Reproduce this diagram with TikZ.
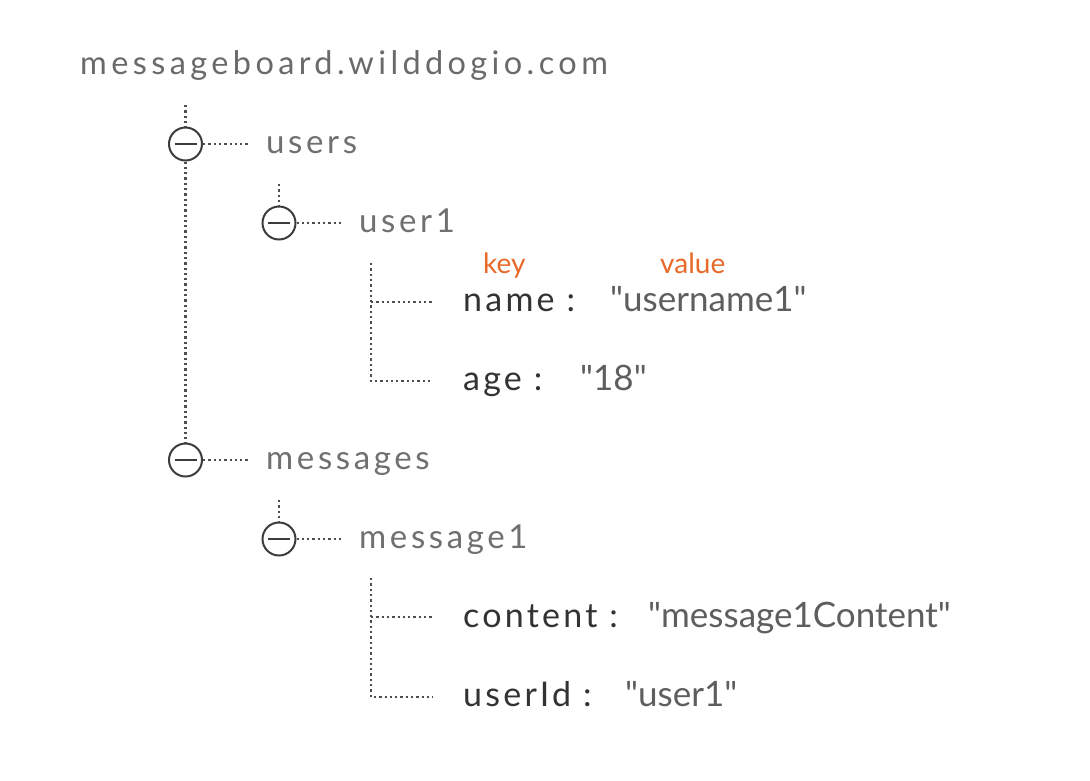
\documentclass[tikz,border=0pt]{standalone}
\usepackage{fontspec}
\setmainfont{Lato}
\newfontfamily\titlefont[LetterSpace=13.5]{Lato}
\newfontfamily\labelfont[LetterSpace=11]{Lato}
\newfontfamily\keyfont[LetterSpace=9.5]{Lato}
\newfontfamily\valfont{Lato}
\definecolor{titlegray}{HTML}{6A6A6A}
\definecolor{labelgray}{HTML}{707070}
\definecolor{keydark}{HTML}{333333}
\definecolor{valgray}{HTML}{5E5E5E}
\definecolor{orangeK}{HTML}{E8692A}
\definecolor{linegray}{HTML}{4E4E4E}
\definecolor{circgray}{HTML}{3C3C3C}
\tikzset{
  dotline/.style={draw=linegray, line width=2.3pt, dash pattern=on 2.3pt off 3pt},
  togglebox/.style={circle, draw=circgray, line width=2pt, minimum size=33pt, inner sep=0pt,
    path picture={\draw[circgray, line width=2.6pt] ([xshift=-11pt]path picture bounding box.center) -- ([xshift=11pt]path picture bounding box.center);}},
  titletext/.style={anchor=base west, inner sep=0pt, text=titlegray, font=\titlefont\fontsize{32.5}{32.5}\selectfont},
  labeltext/.style={anchor=base west, inner sep=0pt, text=labelgray, font=\labelfont\fontsize{33}{33}\selectfont},
  keytext/.style={anchor=base west, inner sep=0pt, text=keydark, font=\keyfont\fontsize{34}{34}\selectfont},
  valtext/.style={anchor=base west, inner sep=0pt, text=valgray, font=\valfont\fontsize{35}{35}\selectfont},
  hinttext/.style={anchor=base west, inner sep=0pt, text=orangeK, font=\valfont\fontsize{28}{28}\selectfont},
}
\begin{document}
\begin{tikzpicture}[x=1pt,y=-1pt]
\useasboundingbox[fill=white] (0,0) rectangle (1090,780);
% title
\node[titletext] (title) at (80,74) {messageboard.wilddogio.com};
% toggles
\node[togglebox] (cu) at (185.5,144) {};
\node[togglebox] (cu1) at (279,223) {};
\node[togglebox] (cm) at (185.5,460) {};
\node[togglebox] (cm1) at (279,539) {};
% labels
\node[labeltext] (lu) at (266,153) {users};
\node[labeltext] (lu1) at (359,232) {user1};
\node[labeltext] (lm) at (266,469) {messages};
\node[labeltext] (lm1) at (359,548) {message1};
% key/value hints
\node[hinttext] (hk) at (483,273) {key};
\node[hinttext] (hv) at (660,273) {value};
% keys and values
\node[keytext] (kname) at (463,311) {name :};
\node[valtext] (vname) at (610,311) {"username1"};
\node[keytext] (kage) at (463,390) {age :};
\node[valtext] (vage) at (580,390) {"18"};
\node[keytext] (kcont) at (463,627) {content :};
\node[valtext] (vcont) at (648,627) {"message1Content"};
\node[keytext] (kuid) at (463,706) {userId :};
\node[valtext] (vuid) at (625,706) {"user1"};
% coordinates
\coordinate (t0) at (185.5,105);
\coordinate (t1) at (279,184);
\coordinate (t2) at (279,500);
\coordinate (b1) at (371,263);
\coordinate (b2) at (371,578);
\coordinate (e1) at (433,302);
\coordinate (e2) at (433,381);
\coordinate (e3) at (433,617);
\coordinate (e4) at (433,697);
% connectors
\draw[dotline] (t0) -- (cu.north);
\draw[dotline] (cu.south) -- (cm.north);
\draw[dotline, shorten >=18pt] (cu.east) -- (cu.east -| lu.west);
\draw[dotline, shorten >=18pt] (cu1.east) -- (cu1.east -| lu1.west);
\draw[dotline, shorten >=18pt] (cm.east) -- (cm.east -| lm.west);
\draw[dotline, shorten >=18pt] (cm1.east) -- (cm1.east -| lm1.west);
\draw[dotline] (t1) -- (cu1.north);
\draw[dotline] (t2) -- (cm1.north);
\draw[dotline] (b1) |- (e2);
\draw[dotline] (b1 |- e1) -- (e1);
\draw[dotline] (b2) |- (e4);
\draw[dotline] (b2 |- e3) -- (e3);
\end{tikzpicture}
\end{document}
